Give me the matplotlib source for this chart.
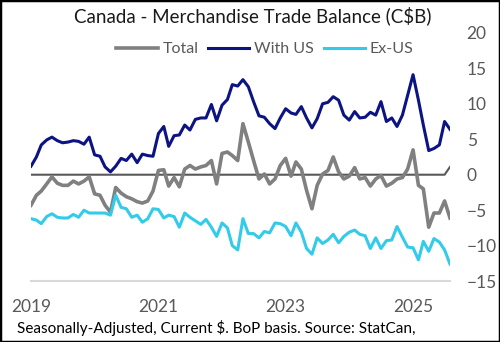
import matplotlib
matplotlib.use('Agg')
import matplotlib.pyplot as plt
from matplotlib.patches import Rectangle
import pandas as pd

# monthly, Jan 2019 - Aug 2025, C$ billions
months = pd.date_range('2019-01-01', periods=80, freq='MS')

total = [-4.3, -2.9, -2.3, -1.3, -0.3, -1.2, -1.5, -1.5, -0.9, -1.3,
         -0.9, -0.3, -2.7, -2.9, -4.3, -5.3, -1.8, -2.6, -3.1, -3.4,
         -3.8, -4.0, -3.7, -2.3, 0.6, 0.7, -1.6, -0.4, -1.7, 0.8,
         1.3, 0.8, 1.1, 1.3, 2.0, -1.3, 3.0, 3.2, 2.7, 2.0,
         7.2, 4.6, 2.0, -0.6, 0.1, -1.3, -0.6, 1.3, 2.3, -0.2,
         1.8, 0.8, -2.2, -4.8, -1.5, 0.1, 0.6, 2.5, 0.4, -0.6,
         -0.2, 1.0, -0.6, -0.4, -1.6, -0.6, -0.1, -1.6, -1.2, -0.6,
         -0.4, 0.8, 3.5, -1.5, -2.0, -7.4, -5.4, -5.4, -3.7, -6.1]

with_us = [1.2, 2.5, 4.2, 4.9, 5.3, 4.8, 4.5, 4.6, 4.8, 4.7,
           4.3, 5.3, 2.8, 2.6, 1.1, 0.4, 1.2, 2.3, 2.0, 2.9,
           1.7, 2.9, 2.7, 2.6, 5.8, 6.8, 4.0, 5.5, 5.6, 7.0,
           6.3, 7.8, 8.0, 8.0, 9.9, 7.6, 9.8, 10.6, 12.7, 12.5,
           13.4, 12.4, 10.3, 8.3, 8.1, 7.2, 6.5, 8.0, 9.3, 8.7,
           8.5, 9.6, 8.0, 6.6, 7.9, 10.0, 10.2, 11.0, 10.5, 8.4,
           7.7, 8.9, 8.0, 8.1, 8.8, 8.4, 10.3, 7.5, 8.0, 6.8,
           8.4, 11.2, 14.1, 10.5, 7.0, 3.4, 3.7, 4.2, 7.5, 6.4]

ex_us = [-6.2, -6.4, -6.9, -5.9, -5.5, -6.0, -6.1, -6.1, -5.6, -6.0,
         -5.0, -5.4, -5.4, -5.4, -5.4, -5.7, -2.9, -4.6, -4.8, -6.0,
         -5.7, -6.7, -6.2, -4.8, -4.9, -6.1, -5.7, -5.9, -7.4, -5.4,
         -6.0, -6.5, -7.0, -6.3, -7.4, -8.7, -6.8, -7.5, -10.0, -10.6,
         -6.2, -8.3, -8.3, -8.9, -8.0, -8.2, -6.8, -6.9, -7.3, -8.6,
         -6.8, -8.1, -10.4, -11.2, -8.9, -9.7, -9.2, -8.4, -9.6, -8.7,
         -8.1, -7.8, -8.4, -8.6, -10.4, -8.9, -10.4, -9.3, -9.2, -7.3,
         -8.8, -10.2, -10.3, -12.0, -9.4, -10.8, -9.0, -9.5, -10.6, -12.6]

# zero reference series (last point ticks up in the source chart)
zero = [0.0] * 79 + [1.1]

year_ticks = ['2019', '2021', '2023', '2025']

plt.rcParams['font.family'] = ['Lato', 'DejaVu Sans']

fig = plt.figure(figsize=(5, 3.42), dpi=100)
ax = fig.add_axes([0.062, 0.178, 0.838, 0.726])

ax.plot(months, zero, color='#595959', lw=1.5, label='_nolegend_')
ax.plot(months, total, color='#808080', lw=2.6, label='Total')
ax.plot(months, with_us, color='#0c1484', lw=2.2, label='With US')
ax.plot(months, ex_us, color='#33cbea', lw=2.2, label='Ex-US')

ax.set_xlim(months[0], months[-1])
ax.set_ylim(-15, 20)
ax.set_yticks([20, 15, 10, 5, 0, -5, -10, -15])
ax.yaxis.tick_right()
ax.set_xticks(pd.to_datetime([y + '-01-01' for y in year_ticks]))
ax.set_xticklabels(year_ticks)
ax.tick_params(axis='both', length=0, labelsize=12.5, colors='#595959')
ax.tick_params(axis='y', pad=12)
ax.tick_params(axis='x', pad=13)

for side in ['top', 'right', 'left']:
    ax.spines[side].set_visible(False)
ax.spines['bottom'].set_color('#d9d9d9')
ax.spines['bottom'].set_linewidth(1.5)
ax.set_facecolor('none')

ax.legend(loc='upper center', bbox_to_anchor=(0.558, 1.02), ncol=3, frameon=False,
          fontsize=11.5, labelcolor='#595959', handlelength=2.6,
          columnspacing=0.6, handletextpad=0.3)

fig.text(0.505, 0.955, 'Canada - Merchandise Trade Balance (C$B)', ha='center', va='center',
         fontsize=13.5, color='#1a1a1a')
fig.text(0.034, 0.042, 'Seasonally-Adjusted, Current $. BoP basis. Source: StatCan,',
         ha='left', va='center', fontsize=11, color='black')

fig.patches.append(Rectangle((0, 0), 1, 1, transform=fig.transFigure, fill=False,
                             edgecolor='black', lw=2.5))

fig.savefig('out.png', dpi=100)
